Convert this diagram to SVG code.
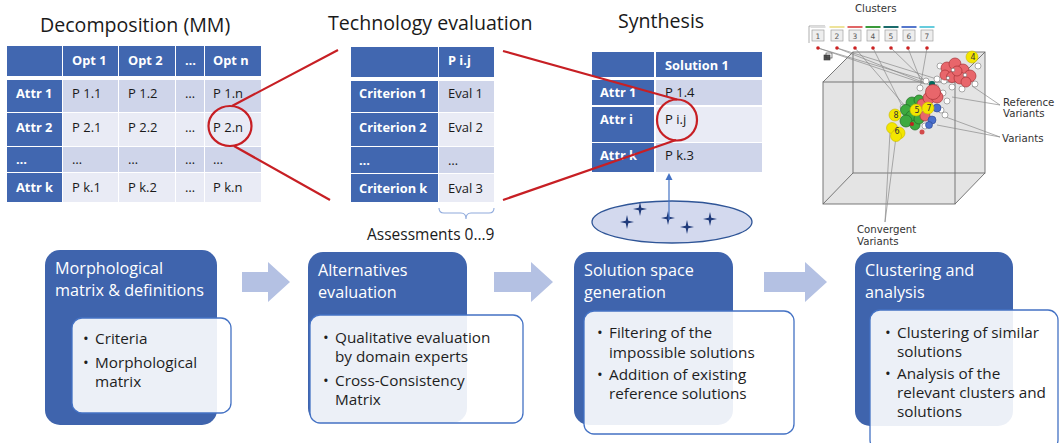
<svg xmlns="http://www.w3.org/2000/svg" width="1064" height="443" viewBox="0 0 1064 443">
  <defs>
    <style>
      .ttl { font-family: "Open Sans", "Liberation Sans", sans-serif; font-size: 19.6px; fill: #1a1a1a; }
      .th { font-family: "Open Sans", "Liberation Sans", sans-serif; font-size: 12.8px; font-weight: bold; fill: #ffffff; }
      .td { font-family: "Open Sans", "Liberation Sans", sans-serif; font-size: 13px; fill: #1a1a1a; }
      .hd { fill: #4167B0; }
      .c1 { fill: #CFD5EA; }
      .c2 { fill: #E9EBF5; }
      .red { fill: none; stroke: #C71F24; stroke-width: 2.2; }
      .blk { fill: #3F64AD; }
      .inner { fill: #ffffff; fill-opacity: 0.9; stroke: #4472C4; stroke-width: 1.3; }
      .bt { font-family: "Open Sans", "Liberation Sans", sans-serif; font-size: 16.2px; fill: #ffffff; }
      .bl { font-family: "Open Sans", "Liberation Sans", sans-serif; font-size: 15.3px; fill: #1e1e1e; }
      .flow { fill: #B4C1E3; }
      .lab { font-family: "DejaVu Sans", sans-serif; font-size: 10.2px; fill: #333333; }
      .num { font-family: "DejaVu Sans", sans-serif; font-size: 7.5px; fill: #555555; text-anchor: middle; }
      .gl { stroke: #8a8a8a; stroke-width: 0.7; fill: none; }
      .rp { fill: #E8666B; stroke: #A83236; stroke-width: 0.7; }
      .gp { fill: #3DAA3F; stroke: #1F6B22; stroke-width: 0.7; }
      .wp { fill: #ffffff; stroke: #777777; stroke-width: 0.6; }
      .bp { fill: #4A6FCC; stroke: #2A458F; stroke-width: 0.6; }
      .yp { fill: #F3E600; stroke: #C8B800; stroke-width: 0.6; }
      .yn { font-family: "DejaVu Sans", sans-serif; font-size: 8px; fill: #333; text-anchor: middle; }
      .star { fill: #1F3A7A; }
    </style>
    <path id="st" d="M0,-7 L1.3,-1.3 L7,0 L1.3,1.3 L0,7 L-1.3,1.3 L-7,0 L-1.3,-1.3 Z"/>
  </defs>
  <rect width="1064" height="443" fill="#ffffff"/>

  <!-- Section headings -->
  <text class="ttl" x="40" y="32">Decomposition (MM)</text>
  <text class="ttl" x="328" y="30">Technology evaluation</text>
  <text class="ttl" x="618" y="28">Synthesis</text>

  <!-- Morphological matrix table -->
  <g id="table-mm">
    <rect class="hd" x="7" y="46" width="55" height="30"/>
    <rect class="hd" x="63" y="46" width="55" height="30"/>
    <rect class="hd" x="119" y="46" width="56" height="30"/>
    <rect class="hd" x="176" y="46" width="28" height="30"/>
    <rect class="hd" x="205" y="46" width="56" height="30"/>
    <text class="th" x="72" y="65">Opt 1</text>
    <text class="th" x="128" y="65">Opt 2</text>
    <text class="th" x="185" y="65">…</text>
    <text class="th" x="213" y="65">Opt n</text>

    <rect class="hd" x="7" y="80" width="55" height="32"/>
    <rect class="c1" x="63" y="80" width="55" height="32"/>
    <rect class="c1" x="119" y="80" width="56" height="32"/>
    <rect class="c1" x="176" y="80" width="28" height="32"/>
    <rect class="c1" x="205" y="80" width="56" height="32"/>
    <text class="th" x="16" y="98">Attr 1</text>
    <text class="td" x="72" y="98">P 1.1</text>
    <text class="td" x="128" y="98">P 1.2</text>
    <text class="td" x="185" y="98">…</text>
    <text class="td" x="213" y="98">P 1.n</text>

    <rect class="hd" x="7" y="113" width="55" height="33"/>
    <rect class="c2" x="63" y="113" width="55" height="33"/>
    <rect class="c2" x="119" y="113" width="56" height="33"/>
    <rect class="c2" x="176" y="113" width="28" height="33"/>
    <rect class="c2" x="205" y="113" width="56" height="33"/>
    <text class="th" x="16" y="132">Attr 2</text>
    <text class="td" x="72" y="132">P 2.1</text>
    <text class="td" x="128" y="132">P 2.2</text>
    <text class="td" x="185" y="132">…</text>
    <text class="td" x="213" y="132">P 2.n</text>

    <rect class="hd" x="7" y="147" width="55" height="25"/>
    <rect class="c1" x="63" y="147" width="55" height="25"/>
    <rect class="c1" x="119" y="147" width="56" height="25"/>
    <rect class="c1" x="176" y="147" width="28" height="25"/>
    <rect class="c1" x="205" y="147" width="56" height="25"/>
    <text class="th" x="16" y="164">…</text>
    <text class="td" x="72" y="164">…</text>
    <text class="td" x="128" y="164">…</text>
    <text class="td" x="185" y="164">…</text>
    <text class="td" x="213" y="164">…</text>

    <rect class="hd" x="7" y="173" width="55" height="29"/>
    <rect class="c2" x="63" y="173" width="55" height="29"/>
    <rect class="c2" x="119" y="173" width="56" height="29"/>
    <rect class="c2" x="176" y="173" width="28" height="29"/>
    <rect class="c2" x="205" y="173" width="56" height="29"/>
    <text class="th" x="16" y="192">Attr k</text>
    <text class="td" x="72" y="192">P k.1</text>
    <text class="td" x="128" y="192">P k.2</text>
    <text class="td" x="185" y="192">…</text>
    <text class="td" x="213" y="192">P k.n</text>
  </g>

  <!-- Criteria evaluation table -->
  <g id="table-eval">
    <rect class="hd" x="351" y="47" width="87" height="30"/>
    <rect class="hd" x="439" y="47" width="55" height="30"/>
    <text class="th" x="448" y="65">P i.j</text>

    <rect class="hd" x="351" y="81" width="87" height="31"/>
    <rect class="c1" x="439" y="81" width="55" height="31"/>
    <text class="th" x="359" y="98">Criterion 1</text>
    <text class="td" x="448" y="98">Eval 1</text>

    <rect class="hd" x="351" y="113" width="87" height="33"/>
    <rect class="c2" x="439" y="113" width="55" height="33"/>
    <text class="th" x="359" y="132">Criterion 2</text>
    <text class="td" x="448" y="132">Eval 2</text>

    <rect class="hd" x="351" y="147" width="87" height="26"/>
    <rect class="c1" x="439" y="147" width="55" height="26"/>
    <text class="th" x="359" y="165">…</text>
    <text class="td" x="448" y="165">…</text>

    <rect class="hd" x="351" y="174" width="87" height="28"/>
    <rect class="c2" x="439" y="174" width="55" height="28"/>
    <text class="th" x="359" y="193">Criterion k</text>
    <text class="td" x="448" y="193">Eval 3</text>

    <path d="M439,208 Q439,213 444,213 L461,213 Q466,213 466,219 Q466,213 471,213 L489,213 Q494,213 494,208" fill="none" stroke="#8FAADC" stroke-width="1.1"/>
    <text class="td" x="367" y="240" style="font-size:15.5px">Assessments 0…9</text>
  </g>

  <!-- Synthesised solution table -->
  <g id="table-solution">
    <rect class="hd" x="592" y="52" width="62" height="25"/>
    <rect class="hd" x="656" y="52" width="106" height="25"/>
    <text class="th" x="665" y="70">Solution 1</text>

    <rect class="hd" x="592" y="80" width="62" height="25"/>
    <rect class="c1" x="656" y="80" width="106" height="25"/>
    <text class="th" x="600" y="97">Attr 1</text>
    <text class="td" x="665" y="97">P 1.4</text>

    <rect class="hd" x="592" y="107" width="62" height="35"/>
    <rect class="c2" x="656" y="107" width="106" height="35"/>
    <text class="th" x="600" y="124">Attr i</text>
    <text class="td" x="665" y="124">P i.j</text>

    <rect class="hd" x="592" y="143" width="62" height="29"/>
    <rect class="c1" x="656" y="143" width="106" height="29"/>
    <text class="th" x="600" y="160">Attr k</text>
    <text class="td" x="665" y="160">P k.3</text>
  </g>

  <!-- Solution space pool -->
  <g id="solution-space">
    <ellipse cx="672" cy="222" rx="80" ry="21" fill="#D3D9EE" stroke="#2F5597" stroke-width="1.3"/>
    <use href="#st" class="star" x="640" y="209"/>
    <use href="#st" class="star" x="627" y="222"/>
    <use href="#st" class="star" x="668" y="218"/>
    <use href="#st" class="star" x="687" y="227"/>
    <use href="#st" class="star" x="710" y="219"/>
  </g>

  <!-- Cluster view -->
  <g id="cluster-view">
    <text class="lab" x="855" y="12">Clusters</text>
    <path d="M809,43 V26 H825" fill="none" stroke="#999" stroke-width="0.8"/>
    <rect x="810.5" y="26" width="15" height="2" fill="#DDDDDD"/>
    <rect x="829.5" y="26" width="15" height="2" fill="#EEE39A"/>
    <rect x="847.5" y="26" width="15" height="2" fill="#E06666"/>
    <rect x="865.5" y="26" width="15" height="2" fill="#3A9A3A"/>
    <rect x="883.5" y="26" width="15" height="2" fill="#1A6B6B"/>
    <rect x="901.5" y="26" width="15" height="2" fill="#5577CC"/>
    <rect x="919.5" y="26" width="15" height="2" fill="#66CCDD"/>
    <g fill="#EEEEEE" stroke="#A0A0A0" stroke-width="0.7">
      <rect x="812" y="30" width="12" height="11"/>
      <rect x="831" y="30" width="12" height="11"/>
      <rect x="849" y="30" width="12" height="11"/>
      <rect x="867" y="30" width="12" height="11"/>
      <rect x="885" y="30" width="12" height="11"/>
      <rect x="903" y="30" width="12" height="11"/>
      <rect x="921" y="30" width="12" height="11"/>
    </g>
    <text class="num" x="818" y="38.5">1</text>
    <text class="num" x="837" y="38.5">2</text>
    <text class="num" x="855" y="38.5">3</text>
    <text class="num" x="873" y="38.5">4</text>
    <text class="num" x="891" y="38.5">5</text>
    <text class="num" x="909" y="38.5">6</text>
    <text class="num" x="927" y="38.5">7</text>
    <rect x="824" y="55" width="6" height="5" fill="#555" stroke="#333" stroke-width="0.6"/>
    <rect x="826" y="53" width="6" height="5" fill="none" stroke="#333" stroke-width="0.6"/>

    <!-- cube -->
    <path d="M823,82 L853,52 L985,52 L985,173 L955,204 L823,204 Z" fill="#E4E4E4"/>
    <g fill="none" stroke="#6a6a6a" stroke-width="0.9">
      <rect x="853" y="52" width="132" height="121"/>
      <rect x="823" y="82" width="132" height="122"/>
      <path d="M823,82 L853,52 M955,82 L985,52 M955,204 L985,173 M823,204 L853,173"/>
    </g>

    <!-- links from cluster selectors -->
    <g class="gl">
      <path d="M818,48 L935,83 M818,48 L925,84"/>
      <path d="M837,48 L930,85 M837,48 L940,80"/>
      <path d="M855,48 L905,106"/>
      <path d="M873,48 L903,108"/>
      <path d="M891,48 L925,81"/>
      <path d="M908,48 L922,84"/>
      <path d="M927,48 L920,88"/>
      <path d="M1000,105 L952,97 M1000,105 L972,86"/>
      <path d="M1000,137 L943,116 M1000,137 L937,125"/>
      <path d="M885,222 L890,132 M885,222 L896,137"/>
    </g>
    <g fill="#CC2222">
      <circle cx="818" cy="48" r="1.8"/>
      <circle cx="837" cy="48" r="1.8"/>
      <circle cx="855" cy="48" r="1.8"/>
      <circle cx="873" cy="48" r="1.8"/>
      <circle cx="891" cy="48" r="1.8"/>
      <circle cx="908" cy="48" r="1.8"/>
      <circle cx="927" cy="48" r="1.8"/>
    </g>

    <!-- data points -->
    <circle class="wp" cx="940" cy="66" r="3"/>
    <circle class="wp" cx="978" cy="66" r="3"/>
    <circle class="wp" cx="944" cy="81" r="3"/>
    <circle class="wp" cx="975" cy="84" r="3"/>
    <circle class="wp" cx="962" cy="89" r="3"/>
    <circle class="wp" cx="952" cy="87" r="3"/>
    <circle class="wp" cx="937" cy="79" r="3"/>
    <circle class="wp" cx="926" cy="81" r="3"/>
    <circle class="wp" cx="920" cy="88" r="3"/>
    <circle class="wp" cx="943" cy="93" r="3"/>
    <circle class="wp" cx="947" cy="101" r="3"/>
    <circle class="wp" cx="941" cy="110" r="3"/>
    <circle class="wp" cx="945" cy="115" r="3"/>
    <circle class="wp" cx="903" cy="107" r="2.8"/>
    <circle class="wp" cx="925" cy="126" r="3"/>
    <circle class="wp" cx="936" cy="87" r="2.6"/>
    <circle class="rp" cx="947" cy="68" r="6"/>
    <circle class="rp" cx="955" cy="64" r="6"/>
    <circle class="rp" cx="963" cy="70" r="6"/>
    <circle class="rp" cx="945" cy="75" r="5"/>
    <circle class="rp" cx="952" cy="77" r="5.5"/>
    <circle class="rp" cx="960" cy="78" r="6"/>
    <circle class="rp" cx="970" cy="76" r="6"/>
    <circle class="rp" cx="966" cy="82" r="5"/>
    <circle class="rp" cx="957" cy="71" r="5"/>
    <circle class="wp" cx="953" cy="70" r="1.8"/>
    <circle class="wp" cx="965" cy="75" r="1.8"/>
    <circle class="wp" cx="948" cy="78" r="1.6"/>
    <circle cx="932" cy="84" r="3" fill="#00695C"/>
    <circle class="gp" cx="912" cy="103" r="6"/>
    <circle class="gp" cx="919" cy="100" r="5"/>
    <circle class="gp" cx="906" cy="110" r="5.5"/>
    <circle class="gp" cx="912" cy="117" r="6.5"/>
    <circle class="gp" cx="906" cy="121" r="6"/>
    <circle class="gp" cx="915" cy="125" r="5"/>
    <circle class="gp" cx="919" cy="119" r="5"/>
    <circle class="rp" cx="922" cy="104" r="5"/>
    <circle class="rp" cx="925" cy="116" r="5"/>
    <circle class="rp" cx="929" cy="98" r="6"/>
    <circle class="rp" cx="937" cy="97" r="6"/>
    <circle class="rp" cx="933" cy="92" r="7.5"/>
    <circle class="bp" cx="932" cy="120" r="4"/>
    <circle class="bp" cx="937" cy="108" r="4"/>
    <circle class="bp" cx="929" cy="125" r="3.5"/>
    <circle cx="912" cy="124" r="2" fill="#C02020"/>
    <circle cx="922" cy="132" r="2.5" fill="#D24A4A"/>
    <circle class="yp" cx="972" cy="57" r="6"/>
    <text class="yn" x="973" y="60">4</text>
    <circle class="yp" cx="916" cy="110" r="6"/>
    <text class="yn" x="917" y="113">5</text>
    <circle class="yp" cx="928" cy="108" r="6"/>
    <text class="yn" x="929" y="111">7</text>
    <circle class="yp" cx="895" cy="115" r="6"/>
    <text class="yn" x="896" y="118">8</text>
    <circle class="yp" cx="892" cy="128" r="5.5"/>
    <circle class="yp" cx="899" cy="133" r="6"/>
    <circle class="yp" cx="896" cy="136" r="5.5"/>
    <text class="yn" x="897" y="134">6</text>

    <text class="lab" x="1003" y="106">Reference</text>
    <text class="lab" x="1003" y="117">Variants</text>
    <text class="lab" x="1002" y="142">Variants</text>
    <text class="lab" x="857" y="233">Convergent</text>
    <text class="lab" x="857" y="245">Variants</text>
  </g>

  <!-- Connectors: zoom callouts and flow arrows -->
  <g id="connectors">
    <ellipse class="red" cx="230" cy="126" rx="21.5" ry="20"/>
    <ellipse class="red" cx="677" cy="120" rx="20" ry="20.5"/>
    <path class="red" d="M232,106 L338,50 M234,146 L330,200 M503,51 L677,99.5 M503,200 L676,140"/>
    <path d="M669,220 V179" stroke="#4472C4" stroke-width="1.2" fill="none"/>
    <path d="M665.5,180 L669,173 L672.5,180 Z" fill="#4472C4"/>
    <path class="flow" d="M242,272 H268 V262 L290,282 L268,302 V292 H242 Z"/>
    <path class="flow" d="M494,272 H531 V262 L553,282 L531,302 V292 H494 Z"/>
    <path class="flow" d="M764,272 H805 V262 L827,282 L805,302 V292 H764 Z"/>
  </g>

  <!-- Process steps -->
  <g id="step-1">
    <rect class="blk" x="45" y="250" width="172" height="175" rx="15"/>
    <text class="bt" x="55" y="274">Morphological</text>
    <text class="bt" x="55" y="296">matrix &amp; definitions</text>
    <rect class="inner" x="72" y="318" width="159" height="95" rx="10"/>
    <text class="bl" x="83" y="344">•</text>
    <text class="bl" x="95" y="344">Criteria</text>
    <text class="bl" x="83" y="368">•</text>
    <text class="bl" x="95" y="368">Morphological</text>
    <text class="bl" x="95" y="387">matrix</text>
  </g>

  <g id="step-2">
    <rect class="blk" x="308" y="252" width="159" height="171" rx="15"/>
    <text class="bt" x="318" y="276">Alternatives</text>
    <text class="bt" x="318" y="298">evaluation</text>
    <rect class="inner" x="310" y="315" width="213" height="108" rx="10"/>
    <text class="bl" x="323" y="343">•</text>
    <text class="bl" x="335" y="343">Qualitative evaluation</text>
    <text class="bl" x="335" y="362">by domain experts</text>
    <text class="bl" x="323" y="386">•</text>
    <text class="bl" x="335" y="386">Cross-Consistency</text>
    <text class="bl" x="335" y="405">Matrix</text>
  </g>

  <g id="step-3">
    <rect class="blk" x="574" y="252" width="159" height="173" rx="15"/>
    <text class="bt" x="584" y="276">Solution space</text>
    <text class="bt" x="584" y="298">generation</text>
    <rect class="inner" x="584" y="311" width="210" height="123" rx="10"/>
    <text class="bl" x="597" y="338">•</text>
    <text class="bl" x="609" y="338">Filtering of the</text>
    <text class="bl" x="609" y="358">impossible solutions</text>
    <text class="bl" x="597" y="380">•</text>
    <text class="bl" x="609" y="380">Addition of existing</text>
    <text class="bl" x="609" y="399">reference solutions</text>
  </g>

  <g id="step-4">
    <rect class="blk" x="855" y="252" width="158" height="174" rx="15"/>
    <text class="bt" x="865" y="276">Clustering and</text>
    <text class="bt" x="865" y="298">analysis</text>
    <rect class="inner" x="870" y="310" width="188" height="140" rx="10"/>
    <text class="bl" x="885" y="338">•</text>
    <text class="bl" x="897" y="338">Clustering of similar</text>
    <text class="bl" x="897" y="357">solutions</text>
    <text class="bl" x="885" y="379">•</text>
    <text class="bl" x="897" y="379">Analysis of the</text>
    <text class="bl" x="897" y="398">relevant clusters and</text>
    <text class="bl" x="897" y="417">solutions</text>
  </g>
</svg>
